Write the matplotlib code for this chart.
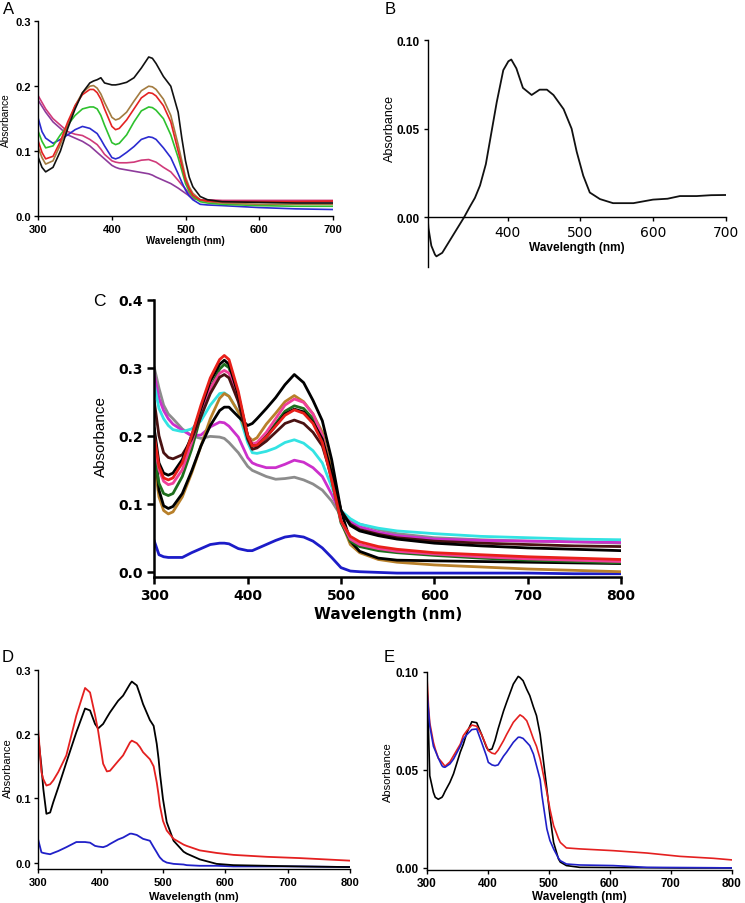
import matplotlib
matplotlib.use("Agg")
import matplotlib.pyplot as plt

W, H = 745, 904

# ---------------- Panel A data ----------------
a_nm = [300, 305, 310, 320, 330, 340, 350, 360, 370, 375, 380, 385, 390, 400, 405, 410, 420, 430, 440,
        450, 455, 460, 470, 480, 490, 495, 500, 505, 510, 520, 530, 550, 600, 650, 700]
a_black = [0.090, 0.075, 0.068, 0.075, 0.100, 0.135, 0.165, 0.190, 0.205, 0.208, 0.210, 0.213, 0.205, 0.202,
           0.202, 0.203, 0.206, 0.213, 0.228, 0.245, 0.243, 0.235, 0.215, 0.200, 0.160, 0.120, 0.085, 0.060,
           0.045, 0.030, 0.025, 0.022, 0.021, 0.020, 0.020]
a_tan = [0.105, 0.090, 0.080, 0.085, 0.110, 0.140, 0.170, 0.190, 0.200, 0.201, 0.197, 0.188, 0.175, 0.152,
         0.148, 0.150, 0.160, 0.177, 0.193, 0.200, 0.199, 0.195, 0.180, 0.155, 0.110, 0.085, 0.060, 0.045,
         0.035, 0.025, 0.022, 0.020, 0.018, 0.018, 0.018]
a_red = [0.115, 0.098, 0.088, 0.092, 0.115, 0.145, 0.170, 0.187, 0.195, 0.195, 0.190, 0.180, 0.165, 0.138,
         0.133, 0.135, 0.148, 0.165, 0.182, 0.190, 0.189, 0.185, 0.170, 0.145, 0.100, 0.078, 0.055, 0.042,
         0.032, 0.025, 0.023, 0.022, 0.022, 0.022, 0.023]
a_green = [0.130, 0.115, 0.105, 0.108, 0.125, 0.140, 0.155, 0.165, 0.168, 0.168, 0.165, 0.155, 0.140, 0.113,
           0.110, 0.112, 0.125, 0.145, 0.162, 0.168, 0.167, 0.163, 0.150, 0.125, 0.090, 0.070, 0.050, 0.038,
           0.030, 0.022, 0.020, 0.018, 0.016, 0.015, 0.015]
a_blue = [0.150, 0.130, 0.120, 0.112, 0.118, 0.125, 0.133, 0.138, 0.135, 0.131, 0.127, 0.118, 0.108, 0.090,
          0.088, 0.090, 0.098, 0.107, 0.118, 0.122, 0.121, 0.118, 0.105, 0.090, 0.065, 0.052, 0.040, 0.031,
          0.025, 0.018, 0.017, 0.016, 0.013, 0.011, 0.010]
a_rose = [0.185, 0.175, 0.165, 0.150, 0.140, 0.130, 0.126, 0.124, 0.118, 0.114, 0.110, 0.103, 0.095, 0.085,
          0.083, 0.082, 0.082, 0.083, 0.086, 0.087, 0.085, 0.083, 0.075, 0.068, 0.055, 0.048, 0.042, 0.035,
          0.028, 0.025, 0.025, 0.024, 0.024, 0.024, 0.024]
a_purple = [0.178, 0.169, 0.160, 0.145, 0.135, 0.125, 0.120, 0.115, 0.108, 0.103, 0.098, 0.093, 0.088, 0.078,
            0.075, 0.073, 0.071, 0.069, 0.067, 0.065, 0.063, 0.060, 0.055, 0.050, 0.043, 0.039, 0.035, 0.031,
            0.027, 0.024, 0.023, 0.023, 0.022, 0.022, 0.022]

# ---------------- Panel B data ----------------
b_nm = [290, 291, 295, 300, 302, 310, 316, 325, 334, 340, 348, 355, 362, 370, 376, 385, 394, 401, 405, 412,
        421, 433, 444, 454, 463, 477, 488, 495, 504, 513, 527, 545, 573, 600, 620, 637, 660, 680, 700]
b_abs = [0.000, -0.006, -0.016, -0.021, -0.022, -0.020, -0.016, -0.010, -0.004, 0.000, 0.006, 0.011, 0.018,
         0.030, 0.044, 0.065, 0.083, 0.088, 0.089, 0.084, 0.073, 0.069, 0.072, 0.072, 0.069, 0.061, 0.050,
         0.037, 0.0235, 0.014, 0.0103, 0.008, 0.008, 0.010, 0.0105, 0.012, 0.012, 0.0125, 0.0126]

# ---------------- Panel C data ----------------
c_nm = [300, 305, 310, 315, 320, 330, 340, 350, 360, 370, 375, 380, 390, 400, 405, 410, 420, 430, 440, 450,
        460, 470, 480, 490, 500, 510, 520, 540, 560, 600, 650, 700, 750, 800]
c_grey = [0.300, 0.270, 0.245, 0.232, 0.225, 0.210, 0.200, 0.196, 0.199, 0.198, 0.196, 0.190, 0.175, 0.155,
          0.149, 0.146, 0.140, 0.136, 0.137, 0.139, 0.135, 0.129, 0.120, 0.104, 0.082, 0.075, 0.070, 0.062,
          0.056, 0.050, 0.047, 0.045, 0.044, 0.042]
c_magenta = [0.290, 0.255, 0.237, 0.225, 0.217, 0.208, 0.200, 0.201, 0.213, 0.220, 0.219, 0.214, 0.198, 0.168,
             0.160, 0.157, 0.153, 0.153, 0.158, 0.164, 0.161, 0.153, 0.140, 0.114, 0.085, 0.073, 0.066, 0.058,
             0.053, 0.048, 0.046, 0.045, 0.044, 0.043]
c_cyan = [0.275, 0.240, 0.225, 0.215, 0.209, 0.206, 0.210, 0.222, 0.245, 0.262, 0.263, 0.258, 0.235, 0.190,
          0.175, 0.174, 0.177, 0.182, 0.190, 0.194, 0.189, 0.178, 0.160, 0.125, 0.090, 0.078, 0.070, 0.064,
          0.060, 0.056, 0.052, 0.050, 0.048, 0.047]
c_maroon = [0.250, 0.200, 0.175, 0.168, 0.166, 0.172, 0.195, 0.228, 0.262, 0.286, 0.290, 0.285, 0.250, 0.195,
            0.180, 0.182, 0.192, 0.205, 0.218, 0.223, 0.218, 0.205, 0.185, 0.140, 0.090, 0.070, 0.062, 0.055,
            0.050, 0.045, 0.042, 0.040, 0.038, 0.037]
c_black2 = [0.210, 0.160, 0.145, 0.142, 0.145, 0.165, 0.200, 0.240, 0.280, 0.305, 0.311, 0.305, 0.260, 0.200,
            0.185, 0.185, 0.198, 0.215, 0.232, 0.239, 0.235, 0.220, 0.195, 0.145, 0.090, 0.068, 0.060, 0.053,
            0.048, 0.042, 0.038, 0.035, 0.033, 0.031]
c_red = [0.200, 0.155, 0.138, 0.135, 0.138, 0.160, 0.200, 0.245, 0.285, 0.312, 0.318, 0.312, 0.265, 0.200,
         0.185, 0.186, 0.198, 0.214, 0.230, 0.238, 0.233, 0.218, 0.190, 0.135, 0.075, 0.052, 0.044, 0.037,
         0.033, 0.028, 0.025, 0.022, 0.020, 0.018]
c_pink = [0.190, 0.150, 0.133, 0.128, 0.130, 0.150, 0.190, 0.235, 0.270, 0.292, 0.296, 0.292, 0.255, 0.200,
          0.188, 0.190, 0.205, 0.225, 0.245, 0.254, 0.249, 0.232, 0.200, 0.140, 0.075, 0.048, 0.040, 0.034,
          0.030, 0.026, 0.022, 0.019, 0.017, 0.015]
c_green = [0.170, 0.130, 0.115, 0.112, 0.115, 0.140, 0.180, 0.230, 0.270, 0.298, 0.305, 0.300, 0.258, 0.198,
           0.185, 0.186, 0.200, 0.218, 0.236, 0.244, 0.240, 0.225, 0.195, 0.135, 0.072, 0.045, 0.037, 0.031,
           0.028, 0.024, 0.020, 0.017, 0.015, 0.013]
c_black1 = [0.200, 0.120, 0.097, 0.093, 0.096, 0.115, 0.148, 0.185, 0.215, 0.237, 0.242, 0.242, 0.228, 0.215,
            0.218, 0.225, 0.240, 0.256, 0.275, 0.290, 0.278, 0.252, 0.222, 0.165, 0.090, 0.045, 0.030, 0.020,
            0.017, 0.016, 0.015, 0.014, 0.013, 0.012]
c_tan = [0.160, 0.110, 0.090, 0.085, 0.088, 0.110, 0.145, 0.185, 0.225, 0.255, 0.262, 0.258, 0.235, 0.200,
         0.193, 0.197, 0.217, 0.233, 0.250, 0.259, 0.250, 0.232, 0.205, 0.150, 0.075, 0.040, 0.028, 0.018,
         0.014, 0.010, 0.007, 0.004, 0.002, 0.000]
c_blue = [0.045, 0.025, 0.022, 0.021, 0.021, 0.021, 0.028, 0.034, 0.040, 0.042, 0.042, 0.041, 0.034, 0.031,
          0.031, 0.034, 0.040, 0.046, 0.051, 0.053, 0.051, 0.045, 0.035, 0.021, 0.006, 0.001, 0.000, -0.001,
          -0.002, -0.002, -0.002, -0.002, -0.003, -0.003]

# ---------------- Panel D data ----------------
d_nm = [300, 305, 308, 313, 319, 324, 332, 345, 361, 375, 383, 391, 396, 404, 410, 415, 428, 436, 447, 450,
        458, 463, 468, 479, 485, 490, 493, 495, 500, 506, 517, 533, 538, 559, 586, 613, 666, 719, 800]
d_black = [0.195, 0.150, 0.115, 0.076, 0.078, 0.094, 0.117, 0.156, 0.203, 0.240, 0.237, 0.216, 0.209, 0.216,
           0.226, 0.234, 0.252, 0.260, 0.278, 0.282, 0.276, 0.262, 0.247, 0.222, 0.213, 0.185, 0.161, 0.140,
           0.099, 0.063, 0.034, 0.017, 0.014, 0.005, -0.002, -0.004, -0.005, -0.006, -0.007]
d_red = [0.205, 0.141, 0.130, 0.120, 0.122, 0.128, 0.141, 0.167, 0.229, 0.272, 0.265, 0.230, 0.205, 0.154,
         0.142, 0.143, 0.158, 0.167, 0.187, 0.190, 0.186, 0.180, 0.172, 0.161, 0.150, 0.125, 0.105, 0.089,
         0.065, 0.050, 0.037, 0.028, 0.026, 0.019, 0.015, 0.012, 0.009, 0.007, 0.003]
d_blue = [0.035, 0.016, 0.015, 0.014, 0.013, 0.015, 0.018, 0.024, 0.032, 0.032, 0.031, 0.026, 0.025, 0.024,
          0.026, 0.029, 0.036, 0.039, 0.045, 0.045, 0.043, 0.040, 0.037, 0.034, 0.024, 0.016, 0.011, 0.008,
          0.003, 0.000, -0.002, -0.003, -0.004, -0.005, -0.005, -0.006, -0.006, -0.006, -0.007]

# ---------------- Panel E data ----------------
e_nm = [300, 303, 305, 311, 314, 319, 325, 327, 330, 338, 344, 355, 360, 366, 374, 382, 390, 398, 401, 407,
        412, 417, 426, 431, 442, 450, 453, 458, 464, 469, 475, 480, 486, 489, 497, 502, 508, 516, 519, 529,
        551, 606, 661, 715, 770, 800]
e_black = [0.098, 0.069, 0.047, 0.0385, 0.036, 0.035, 0.036, 0.037, 0.039, 0.0436, 0.048, 0.059, 0.063,
           0.069, 0.0745, 0.074, 0.068, 0.0615, 0.060, 0.0606, 0.065, 0.0708, 0.080, 0.0844, 0.0937, 0.0976,
           0.097, 0.0954, 0.091, 0.0878, 0.082, 0.0776, 0.068, 0.0606, 0.0402, 0.0267, 0.013, 0.0046, 0.003,
           0.0012, 0.0003, 0.0002, 0.0001, 0.0, 0.0, 0.0]
e_red = [0.100, 0.082, 0.074, 0.064, 0.0606, 0.056, 0.0538, 0.053, 0.0518, 0.054, 0.0572, 0.063, 0.0674,
         0.070, 0.0728, 0.0722, 0.068, 0.062, 0.0598, 0.0585, 0.0581, 0.060, 0.0649, 0.068, 0.0742, 0.077,
         0.078, 0.077, 0.075, 0.071, 0.0657, 0.062, 0.0555, 0.051, 0.0385, 0.030, 0.0216, 0.015, 0.013,
         0.0102, 0.0097, 0.0088, 0.0076, 0.0059, 0.0049, 0.0041]
e_blue = [0.092, 0.080, 0.0725, 0.062, 0.0598, 0.056, 0.0521, 0.0515, 0.0513, 0.053, 0.0555, 0.062, 0.0657,
          0.068, 0.0705, 0.0708, 0.064, 0.057, 0.0538, 0.0525, 0.0521, 0.0525, 0.057, 0.059, 0.064, 0.0666,
          0.0666, 0.066, 0.064, 0.0623, 0.058, 0.0521, 0.045, 0.0368, 0.0199, 0.014, 0.0097, 0.005, 0.0037,
          0.002, 0.0015, 0.0012, 0.0003, 0.0002, 0.0001, 0.0]

A_SERIES = [(a_purple, '#8e3b9c'), (a_rose, '#d03a7a'), (a_blue, '#2b2bd0'), (a_green, '#2ec12e'),
            (a_tan, '#a37b40'), (a_red, '#e42222'), (a_black, '#111111')]
C_SERIES = [(c_blue, '#1c1cc8'), (c_grey, '#8c8c8c'), (c_magenta, '#cc30cc'), (c_cyan, '#33e3e3'),
            (c_tan, '#b8802a'), (c_black1, '#000000'), (c_green, '#1d6e1d'), (c_pink, '#f0409a'),
            (c_maroon, '#4a1212'), (c_black2, '#000000'), (c_red, '#e8201a')]
D_SERIES = [(d_blue, '#2020c8'), (d_black, '#000000'), (d_red, '#e42020')]
E_SERIES = [(e_black, '#000000'), (e_red, '#e42020'), (e_blue, '#2020c8')]

ARIAL = ['Liberation Sans', 'DejaVu Sans']
WIDE = ['DejaVu Sans']

fig = plt.figure(figsize=(W / 100, H / 100), dpi=100)


def px_axes(l, r, t, b):
    return fig.add_axes([l / W, 1 - b / H, (r - l) / W, (b - t) / H])


def ftext(x, y, s, **kw):
    fig.text(x / W, 1 - y / H, s, ha='center', va='center', **kw)


def style(ax, xlim, ylim, xticks, yticks, yfmt, tsize, fam, lw=1.2, tlen=3, pad=2.5):
    ax.set_xlim(*xlim)
    ax.set_ylim(*ylim)
    ax.set_xticks(xticks)
    ax.set_yticks(yticks)
    ax.tick_params(direction='out', length=tlen, width=lw, pad=pad)
    ax.set_xticklabels([str(v) for v in xticks], fontsize=tsize, fontweight='bold', family=fam)
    ax.set_yticklabels([yfmt.format(v) for v in yticks], fontsize=tsize, fontweight='bold', family=fam)
    for s in ('top', 'right'):
        ax.spines[s].set_visible(False)
    for s in ('left', 'bottom'):
        ax.spines[s].set_linewidth(lw)
        ax.spines[s].set_color('black')
    ax.patch.set_alpha(0)


# Panel A
axA = px_axes(38.3, 332.7, 22.3, 217)
for ys, col in A_SERIES:
    axA.plot(a_nm, ys, color=col, lw=1.2)
style(axA, (300, 700), (0, 0.3), [300, 400, 500, 600, 700], [0.0, 0.1, 0.2, 0.3], '{:.1f}', 8, ARIAL,
      lw=1.0, tlen=3, pad=2.5)
ftext(185.5, 241, 'Wavelength (nm)', fontsize=7, fontweight='bold', family=ARIAL)
ftext(6, 120, 'Absorbance', fontsize=7.3, rotation=90, family=ARIAL)
ftext(9, 9, 'A', fontsize=12, family=ARIAL)

# Panel B
axB = px_axes(427.7, 725.7, 41, 268)
axB.plot(b_nm, b_abs, color='#111111', lw=1.3)
style(axB, (290, 700), (-0.028, 0.10), [400, 500, 600, 700], [0.00, 0.05, 0.10], '{:.2f}', 8.5, ARIAL,
      lw=1.0, tlen=3, pad=2.5)
axB.spines['bottom'].set_position(('data', 0))
ftext(577, 248, 'Wavelength (nm)', fontsize=8.6, fontweight='bold', family=ARIAL)
ftext(390, 128, 'Absorbance', fontsize=9, rotation=90, family=ARIAL)
ftext(390, 9, 'B', fontsize=12, family=ARIAL)

# Panel C
axC = px_axes(154.3, 621, 300.7, 578.3)
for ys, col in C_SERIES:
    axC.plot(c_nm, ys, color=col, lw=2.0)
style(axC, (300, 800), (-0.0082, 0.4), [300, 400, 500, 600, 700, 800], [0.0, 0.1, 0.2, 0.3, 0.4], '{:.1f}',
      10, WIDE, lw=1.8, tlen=5, pad=3)
ftext(388, 614, 'Wavelength (nm)', fontsize=11, fontweight='bold', family=WIDE)
ftext(101, 437, 'Absorbance', fontsize=11, rotation=90, family=ARIAL)
ftext(99, 302, 'C', fontsize=12.5, family=ARIAL)

# Panel D
axD = px_axes(38.3, 350, 671, 870)
for ys, col in D_SERIES:
    axD.plot(d_nm, ys, color=col, lw=1.3)
style(axD, (300, 800), (-0.01, 0.3), [300, 400, 500, 600, 700, 800], [0.0, 0.1, 0.2, 0.3], '{:.1f}', 8,
      ARIAL, lw=1.0, tlen=3, pad=2.5)
ftext(194, 897, 'Wavelength (nm)', fontsize=8, fontweight='bold', family=ARIAL)
ftext(8, 768, 'Absorbance', fontsize=8, rotation=90, family=ARIAL)
ftext(8, 657, 'D', fontsize=12, family=ARIAL)

# Panel E
axE = px_axes(426.7, 731.7, 672.7, 870.7)
for ys, col in E_SERIES:
    axE.plot(e_nm, ys, color=col, lw=1.2)
style(axE, (300, 800), (-0.0009, 0.10), [300, 400, 500, 600, 700, 800], [0.00, 0.05, 0.10], '{:.2f}', 8.5,
      ARIAL, lw=1.0, tlen=3, pad=2.5)
ftext(579, 897, 'Wavelength (nm)', fontsize=8.5, fontweight='bold', family=ARIAL)
ftext(388, 772, 'Absorbance', fontsize=8, rotation=90, family=ARIAL)
ftext(389, 657, 'E', fontsize=12, family=ARIAL)

fig.savefig('out.png', dpi=100)
